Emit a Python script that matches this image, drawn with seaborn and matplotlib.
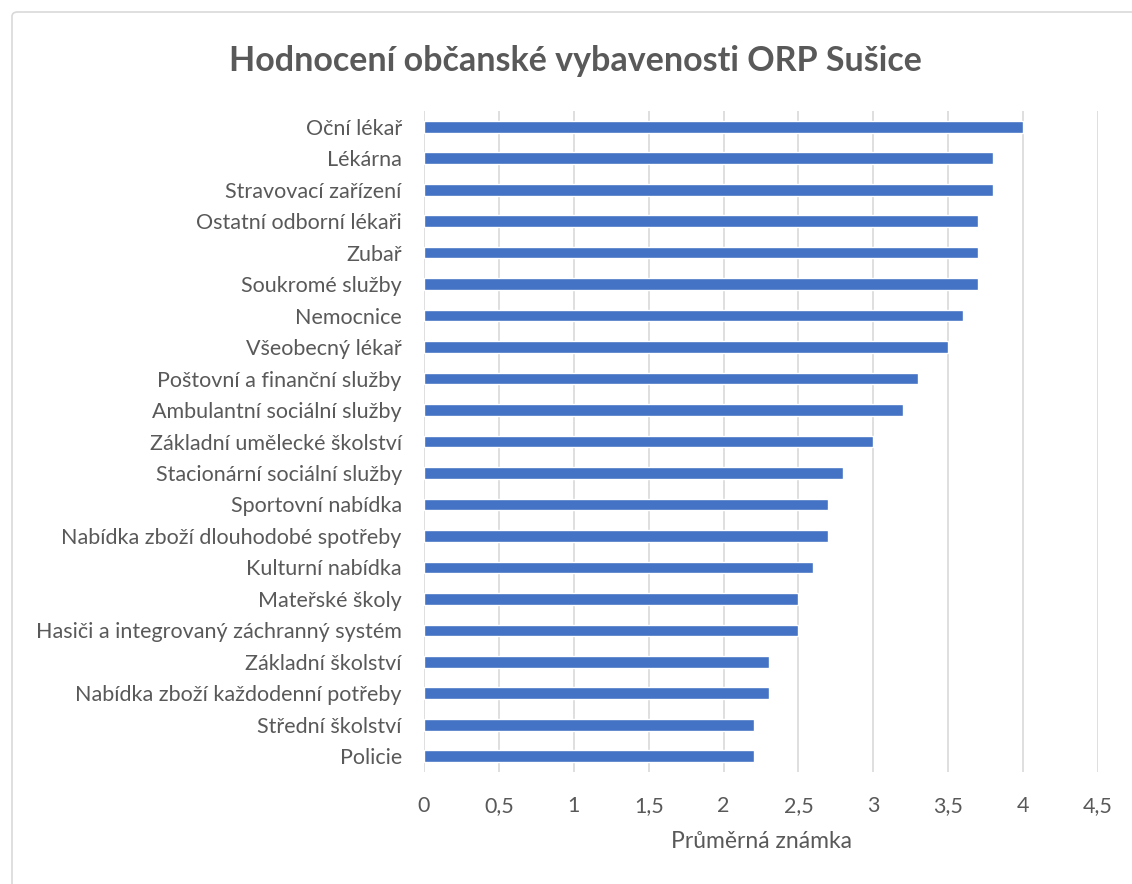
import matplotlib
matplotlib.use("Agg")
import matplotlib.pyplot as plt
import seaborn as sns
import pandas as pd
from matplotlib.patches import FancyBboxPatch
from matplotlib.ticker import FuncFormatter, MultipleLocator

# data (top to bottom as in the chart)
categories = [
    "Oční lékař", "Lékárna", "Stravovací zařízení", "Ostatní odborní lékaři",
    "Zubař", "Soukromé služby", "Nemocnice", "Všeobecný lékař",
    "Poštovní a finanční služby", "Ambulantní sociální služby",
    "Základní umělecké školství", "Stacionární sociální služby",
    "Sportovní nabídka", "Nabídka zboží dlouhodobé spotřeby",
    "Kulturní nabídka", "Mateřské školy",
    "Hasiči a integrovaný záchranný systém", "Základní školství",
    "Nabídka zboží každodenní potřeby", "Střední školství", "Policie",
]
scores = [4.0, 3.8, 3.8, 3.7, 3.7, 3.7, 3.6, 3.5, 3.3, 3.2, 3.0,
          2.8, 2.7, 2.7, 2.6, 2.5, 2.5, 2.3, 2.3, 2.2, 2.2]

df = pd.DataFrame({"kategorie": categories, "znamka": scores})

sns.set_style("white")
plt.rcParams["font.family"] = ["Lato", "DejaVu Sans"]
text_color = "#595959"

fig = plt.figure(figsize=(11.32, 8.84), dpi=100)
ax = fig.add_axes([0.3746, 0.1267, 0.5954, 0.7477])

# outer chart frame
fig.patches.append(FancyBboxPatch((12 / 1132, -0.05), 1.2, 1.05 - 12 / 884,
                                  transform=fig.transFigure,
                                  boxstyle="round,pad=0,rounding_size=0.005",
                                  fc="none", ec="#D9D9D9", lw=1.2))

sns.barplot(data=df, x="znamka", y="kategorie", color="#4472C4", width=0.37,
            saturation=1, ax=ax, zorder=3)

ax.set_xlim(0, 4.5)
ax.xaxis.set_major_locator(MultipleLocator(0.5))
ax.xaxis.set_major_formatter(FuncFormatter(lambda v, p: f"{v:g}".replace(".", ",")))
ax.grid(axis="x", color="#D9D9D9", lw=1.2, zorder=0)
ax.set_axisbelow(True)
sns.despine(ax=ax, left=True, bottom=True, top=True, right=True)

ax.tick_params(axis="y", length=0, pad=16, labelsize=15.5, labelcolor=text_color)
ax.tick_params(axis="x", length=0, pad=17, labelsize=15.5, labelcolor=text_color)
ax.set_ylabel("")
ax.set_xlabel("Průměrná známka", fontsize=16.5, color=text_color, labelpad=11)

fig.suptitle("Hodnocení občanské vybavenosti ORP Sušice", x=0.508, y=0.949,
             fontsize=24.5, fontweight="bold", color=text_color)

fig.savefig("out.png", dpi=100)
